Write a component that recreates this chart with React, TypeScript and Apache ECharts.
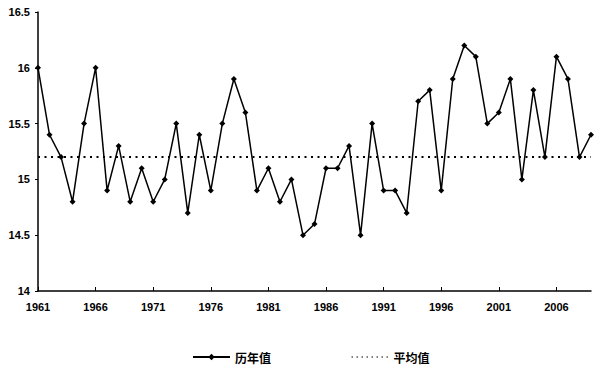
import React, { useEffect, useRef } from "react";
import * as echarts from "echarts";

const years: string[] = [];
for (let y = 1961; y <= 2009; y++) years.push(String(y));

const annualValues = [
  16.0, 15.4, 15.2, 14.8, 15.5, 16.0, 14.9, 15.3, 14.8, 15.1,
  14.8, 15.0, 15.5, 14.7, 15.4, 14.9, 15.5, 15.9, 15.6, 14.9,
  15.1, 14.8, 15.0, 14.5, 14.6, 15.1, 15.1, 15.3, 14.5, 15.5,
  14.9, 14.9, 14.7, 15.7, 15.8, 14.9, 15.9, 16.2, 16.1, 15.5,
  15.6, 15.9, 15.0, 15.8, 15.2, 16.1, 15.9, 15.2, 15.4,
];

const meanValue = 15.2;
const meanValues = years.map(() => meanValue);

const seriesNames = ["历年值", "平均值"];

export default function App() {
  const ref = useRef<HTMLDivElement>(null);
  useEffect(() => {
    if (!ref.current) return;
    const chart = echarts.init(ref.current, undefined, { renderer: "svg" });
    const font = "'Liberation Sans', 'Noto Sans CJK SC', sans-serif";
    chart.setOption({
      animation: false,
      backgroundColor: "#ffffff",
      grid: { left: 38, right: 9, top: 12, bottom: 74 },
      legend: {
        top: 351,
        left: 192,
        padding: 0,
        itemGap: 80,
        itemWidth: 37,
        itemHeight: 8,
        textStyle: {
          fontFamily: "'Noto Sans CJK SC', sans-serif",
          fontSize: 12,
          fontWeight: "bold",
          color: "#000",
        },
        data: [
          { name: seriesNames[0] },
          {
            name: seriesNames[1],
            itemStyle: { opacity: 0 },
            lineStyle: { width: 1, type: [1.5, 3.5] },
          },
        ],
      },
      xAxis: {
        type: "category",
        data: years,
        boundaryGap: false,
        axisLine: { lineStyle: { color: "#000", width: 1.5 } },
        axisTick: {
          interval: 4,
          inside: true,
          length: 4,
          lineStyle: { color: "#000" },
        },
        axisLabel: {
          interval: 4,
          color: "#000",
          fontSize: 11,
          fontWeight: "bold",
          fontFamily: font,
          margin: 10,
        },
      },
      yAxis: {
        type: "value",
        min: 14,
        max: 16.5,
        interval: 0.5,
        splitLine: { show: false },
        axisLine: { show: true, lineStyle: { color: "#000", width: 1.5 } },
        axisTick: { show: true, length: 3, lineStyle: { color: "#000" } },
        axisLabel: {
          color: "#000",
          fontSize: 11,
          fontWeight: "bold",
          fontFamily: font,
          margin: 8,
        },
      },
      series: [
        {
          name: seriesNames[0],
          type: "line",
          data: annualValues,
          symbol: "diamond",
          symbolSize: 6,
          itemStyle: { color: "#000" },
          lineStyle: { color: "#000", width: 1.5 },
        },
        {
          name: seriesNames[1],
          type: "line",
          data: meanValues,
          symbol: "none",
          itemStyle: { color: "#000" },
          lineStyle: { color: "#000", width: 2, type: [2, 4.5] },
        },
      ],
    });
    return () => chart.dispose();
  }, []);
  return (
    <div
      ref={ref}
      style={{ position: "fixed", left: 0, top: 0, width: 600, height: 365 }}
    />
  );
}
